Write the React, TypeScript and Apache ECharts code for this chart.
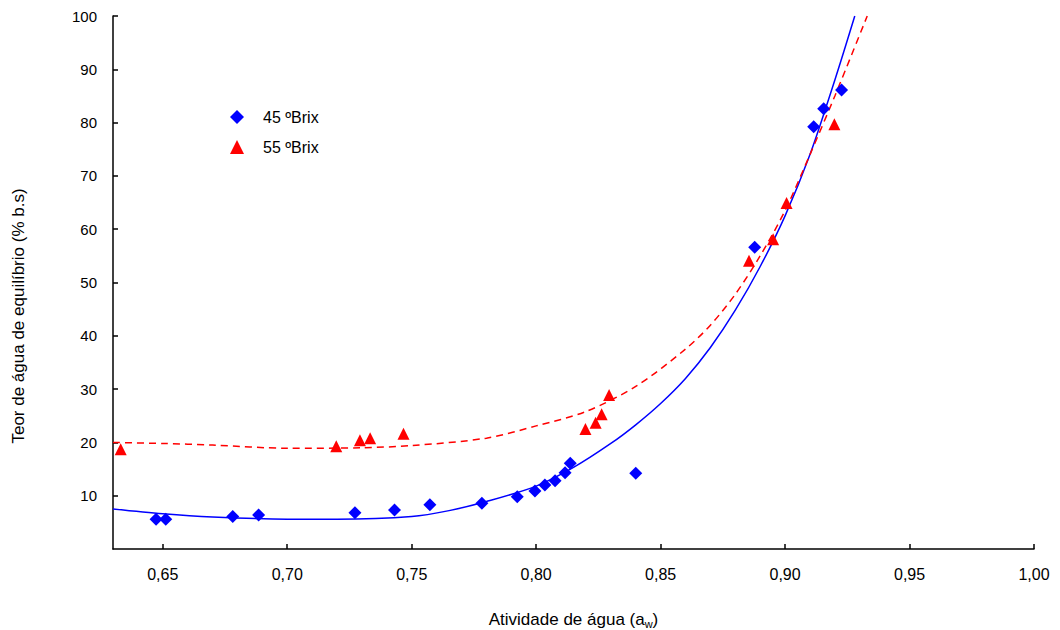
import React, { useEffect, useRef } from "react";
import * as echarts from "echarts";

// Observed points: [water activity, equilibrium moisture]
const brix45Points: number[][] = [
  [0.6473, 5.6], [0.6512, 5.6], [0.6781, 6.1], [0.6885, 6.4], [0.7272, 6.8],
  [0.7431, 7.3], [0.7573, 8.3], [0.7782, 8.6], [0.7924, 9.8], [0.7995, 10.9],
  [0.8035, 12.0], [0.8076, 12.8], [0.8116, 14.3], [0.8137, 16.1], [0.84, 14.2],
  [0.8878, 56.6], [0.9115, 79.2], [0.9155, 82.6], [0.9227, 86.1],
];
const brix55Points: number[][] = [
  [0.6331, 18.7], [0.7197, 19.3], [0.7292, 20.4], [0.7333, 20.8], [0.7467, 21.6],
  [0.8198, 22.5], [0.8239, 23.7], [0.8263, 25.3], [0.8293, 28.9],
  [0.8855, 54.1], [0.8952, 58.1], [0.9006, 64.9], [0.9198, 79.7],
];

// Fitted curves
const fit45Aw = [0.63, 0.65, 0.67, 0.70, 0.72, 0.75, 0.765, 0.78, 0.80, 0.815, 0.83, 0.84, 0.85, 0.86, 0.87, 0.88, 0.89, 0.90, 0.91, 0.92, 0.928];
const fit45Val = [7.5, 6.6, 6.0, 5.6, 5.6, 6.1, 7.2, 8.9, 11.8, 15.3, 19.8, 23.3, 27.3, 32.0, 37.8, 44.8, 53.0, 62.5, 74.0, 88.0, 100];
const fit55Aw = [0.63, 0.65, 0.67, 0.70, 0.73, 0.75, 0.78, 0.80, 0.82, 0.84, 0.86, 0.87, 0.88, 0.89, 0.90, 0.91, 0.92, 0.933];
const fit55Val = [20.0, 19.8, 19.5, 18.9, 19.0, 19.4, 20.8, 23.1, 25.8, 30.5, 37.5, 42.0, 47.8, 55.0, 63.5, 74.0, 85.0, 100];

const xTicks = [0.65, 0.7, 0.75, 0.8, 0.85, 0.9, 0.95, 1.0];
const yTicks = [10, 20, 30, 40, 50, 60, 70, 80, 90, 100];
const seriesNames = ["45 ºBrix", "55 ºBrix"];

const FONT = "'Liberation Sans', Arial, sans-serif";

export default function App() {
  const ref = useRef<HTMLDivElement>(null);
  useEffect(() => {
    if (!ref.current) return;
    const chart = echarts.init(ref.current, undefined, { renderer: "svg" });
    const zip = (a: number[], b: number[]) => a.map((x, i) => [x, b[i]]);
    chart.setOption({
      animation: false,
      backgroundColor: "#ffffff",
      grid: { left: 113, right: 26, top: 16, bottom: 81, outerBoundsMode: "none" },
      legend: {
        orient: "vertical",
        left: 225,
        top: 104,
        itemWidth: 14,
        itemHeight: 14,
        itemGap: 14,
        data: [
          { name: seriesNames[0], icon: "diamond" },
          { name: seriesNames[1], icon: "triangle" },
        ],
        textStyle: { fontFamily: FONT, fontSize: 16, color: "#000", padding: [0, 0, 0, 14] },
      },
      xAxis: {
        type: "value",
        min: 0.63,
        max: 1.0,
        name: "Atividade de água (a{s|w})",
        nameLocation: "middle",
        nameGap: 61,
        nameTextStyle: {
          fontFamily: FONT,
          fontSize: 17,
          color: "#000",
          rich: { s: { fontFamily: FONT, fontSize: 11, color: "#000", padding: [8, 0, 0, 0] } },
        },
        axisLine: { show: true, onZero: false, lineStyle: { color: "#000", width: 1.5 } },
        axisTick: { show: true, inside: true, length: 5, customValues: xTicks, lineStyle: { color: "#000", width: 1.5 } },
        axisLabel: {
          customValues: xTicks,
          margin: 17,
          fontFamily: FONT,
          fontSize: 16,
          color: "#000",
          formatter: (v: number) => v.toFixed(2).replace(".", ","),
        },
        splitLine: { show: false },
      },
      yAxis: {
        type: "value",
        min: 0,
        max: 100,
        axisLine: { show: true, onZero: false, lineStyle: { color: "#000", width: 1.5 } },
        axisTick: { show: true, inside: true, length: 5, customValues: yTicks, lineStyle: { color: "#000", width: 1.5 } },
        axisLabel: {
          customValues: yTicks,
          margin: 16,
          fontFamily: FONT,
          fontSize: 15,
          color: "#000",
        },
        splitLine: { show: false },
      },
      graphic: [
        {
          type: "text",
          x: 18,
          y: 316,
          rotation: Math.PI / 2,
          style: {
            text: "Teor de água de equilíbrio (% b.s)",
            fontFamily: FONT,
            fontSize: 17,
            fill: "#000",
            align: "center",
            verticalAlign: "middle",
          },
        },
      ],
      series: [
        {
          name: "fit45",
          type: "line",
          data: zip(fit45Aw, fit45Val),
          smooth: 0.3,
          showSymbol: false,
          symbol: "none",
          lineStyle: { color: "#0000ff", width: 1.5 },
          z: 1,
          silent: true,
        },
        {
          name: "fit55",
          type: "line",
          data: zip(fit55Aw, fit55Val),
          smooth: 0.3,
          showSymbol: false,
          symbol: "none",
          lineStyle: { color: "#ff0000", width: 1.5, type: [7, 5] },
          z: 1,
          silent: true,
        },
        {
          name: seriesNames[0],
          type: "scatter",
          data: brix45Points,
          symbol: "diamond",
          symbolSize: 13,
          itemStyle: { color: "#0000ff", opacity: 1 },
          z: 3,
        },
        {
          name: seriesNames[1],
          type: "scatter",
          data: brix55Points,
          symbol: "triangle",
          symbolSize: 12,
          itemStyle: { color: "#ff0000", opacity: 1 },
          z: 3,
        },
      ],
    });
    return () => chart.dispose();
  }, []);
  return (
    <div
      ref={ref}
      style={{ position: "fixed", left: 0, top: 0, width: 1060, height: 630, background: "#fff" }}
    />
  );
}
